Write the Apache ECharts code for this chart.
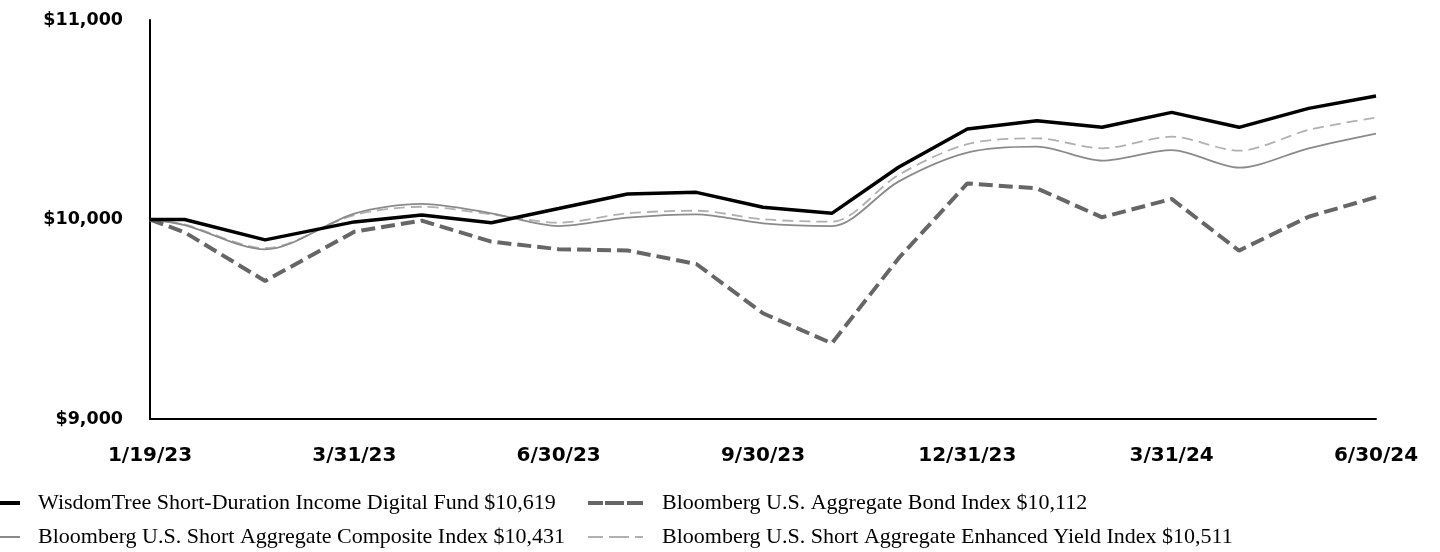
<!DOCTYPE html>
<html>
<head>
<meta charset="utf-8">
<script src="https://cdn.jsdelivr.net/npm/echarts@6/dist/echarts.min.js"></script>
<style>
html,body{margin:0;padding:0;background:#fff;}
#chart{width:1440px;height:552px;}
</style>
</head>
<body>
<div id="chart"></div>
<script>
// ---- data ----
var dates = ['2023-01-19','2023-01-31','2023-02-28','2023-03-31','2023-04-30','2023-05-31','2023-06-30',
             '2023-07-31','2023-08-31','2023-09-30','2023-10-31','2023-11-30','2023-12-31',
             '2024-01-31','2024-02-29','2024-03-31','2024-04-30','2024-05-31','2024-06-30'];
var tickDates = ['2023-01-19','2023-03-31','2023-06-30','2023-09-30','2023-12-31','2024-03-31','2024-06-30'];
var tickLabels = ['1/19/23','3/31/23','6/30/23','9/30/23','12/31/23','3/31/24','6/30/24'];
var yTicks = [9000, 10000, 11000];

var fundName = 'WisdomTree Short-Duration Income Digital Fund $10,619';
var aggName = 'Bloomberg U.S. Aggregate Bond Index $10,112';
var compName = 'Bloomberg U.S. Short Aggregate Composite Index $10,431';
var enhName = 'Bloomberg U.S. Short Aggregate Enhanced Yield Index $10,511';

var fund = [10000,10000,9898,9988,10023,9984,10055,10128,10136,10061,10031,10262,10454,10495,10462,10537,10462,10557,10619];
var aggBond = [10000,9936,9692,9939,9994,9889,9851,9845,9777,9530,9379,9805,10181,10156,10011,10103,9844,10014,10112];
var composite = [10000,9972,9850,10030,10078,10031,9967,10009,10026,9981,9967,10190,10335,10365,10295,10348,10260,10357,10431];
var enhanced = [10000,9975,9856,10022,10064,10026,9984,10031,10044,10001,9989,10223,10378,10407,10357,10415,10345,10449,10511];

// axis position: each labelled period occupies one unit, dates spread by day within it
function t(s){ return Date.parse(s + 'T00:00:00Z'); }
function pos(s){
  var d = t(s);
  for (var i = 0; i < tickDates.length - 1; i++) {
    var a = t(tickDates[i]), b = t(tickDates[i+1]);
    if (d >= a && d <= b) return i + (d - a) / (b - a);
  }
  return tickDates.length - 1;
}
function pairs(vals){ return vals.map(function(v, i){ return [pos(dates[i]), v]; }); }

var chart = echarts.init(document.getElementById('chart'), null, {renderer: 'canvas'});
var axisFont = {fontFamily: 'DejaVu Sans', fontWeight: 'bold', color: '#000'};
// legend icon shapes
var iconSolidThick = 'path://M0,0H20V4H0Z';
var iconSolidThin = 'path://M0,0H20V2H0Z';
var iconDashThick = 'path://M0,0H15V4H0Z M17,0H36V4H17Z M39,0H55V4H39Z';
var iconDashThin = 'path://M0,0H15V2H0Z M21,0H41V2H21Z M47,0H55V2H47Z';
function legendAt(name, icon, left, top, w, h, pad){
  return {
    data: [{name: name, icon: icon}], left: left, top: top, padding: 0,
    itemWidth: w, itemHeight: h,
    textStyle: {fontFamily: 'Liberation Serif', fontSize: 22, color: '#000', padding: [0,0,0,pad]},
    selectedMode: false
  };
}
chart.setOption({
  animation: false,
  grid: {left: 150, right: 64, top: 20, bottom: 133},
  xAxis: {
    type: 'value', min: 0, max: tickLabels.length - 1, interval: 1,
    axisLine: {show: true, lineStyle: {color: '#000', width: 2}},
    axisTick: {show: false},
    splitLine: {show: false},
    axisLabel: Object.assign({fontSize: 20, margin: 27,
      formatter: function(v){ return tickLabels[Math.round(v)] || ''; }}, axisFont)
  },
  yAxis: {
    type: 'value', min: yTicks[0], max: yTicks[yTicks.length-1], interval: yTicks[1] - yTicks[0],
    axisLine: {show: true, lineStyle: {color: '#000', width: 2}},
    axisTick: {show: false},
    splitLine: {show: false},
    axisLabel: Object.assign({fontSize: 17.5, margin: 27,
      formatter: function(v){ return '$' + v.toLocaleString('en-US'); }}, axisFont)
  },
  legend: [
    legendAt(fundName, iconSolidThick, 0, 492, 20, 4, 13),
    legendAt(aggName, iconDashThick, 588, 492, 55, 4, 14),
    legendAt(compName, iconSolidThin, 0, 526, 20, 2, 13),
    legendAt(enhName, iconDashThin, 588, 526, 55, 2, 14)
  ],
  series: [
    {name: enhName, type: 'line', data: pairs(enhanced), symbol: 'none', smooth: 0.3,
     lineStyle: {color: '#b0b0b0', width: 1.8, type: [11, 6]}, itemStyle: {color: '#b0b0b0'}, z: 2},
    {name: compName, type: 'line', data: pairs(composite), symbol: 'none', smooth: 0.3,
     lineStyle: {color: '#8a8a8a', width: 1.8}, itemStyle: {color: '#8a8a8a'}, z: 3},
    {name: aggName, type: 'line', data: pairs(aggBond), symbol: 'none',
     lineStyle: {color: '#666666', width: 4, type: [14, 6]}, itemStyle: {color: '#666666'}, z: 4},
    {name: fundName, type: 'line', data: pairs(fund), symbol: 'none',
     lineStyle: {color: '#000000', width: 3.5}, itemStyle: {color: '#000000'}, z: 5}
  ]
});
</script>
</body>
</html>
